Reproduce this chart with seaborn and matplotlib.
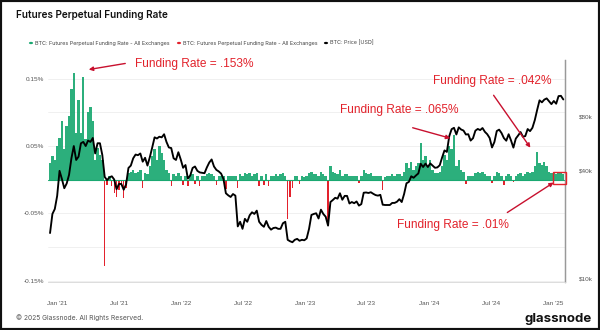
import numpy as np
import pandas as pd
import matplotlib
matplotlib.use("Agg")
import matplotlib.pyplot as plt
import matplotlib.patches as mpatches
import seaborn as sns

# ---------------- data (weekly) ----------------
start_date = "2020-12-11"

price_usd = [
    18000, 23000, 24500,
    29000, 40000, 36000, 32000, 34000,
    38000, 47000, 55000, 46000,
    48000, 57000, 58000, 55000,
    59000, 58000, 61000, 50000, 57000,
    57000, 49000, 37000, 35500,
    36800, 37300, 35800, 31600,
    33800, 33800, 31400, 33600, 41500,
    42800, 47000, 49300, 48900,
    50000, 45000, 47300, 42800,
    47700, 54000, 61500, 60600, 62000,
    61500, 64000, 58000, 54000,
    53600, 47000, 46000, 50800, 46300,
    41600, 43100, 36200, 37700,
    41500, 42300, 40000, 39200,
    39000, 38800, 41800, 44500,
    46300, 42300, 40500, 39700, 38600,
    36000, 30000, 29200, 28600,
    29700, 29100, 19600, 20800,
    19000, 21600, 20800, 22600, 23500,
    23000, 24000, 20800, 20000,
    19500, 21000, 19500, 18800, 19200,
    19300, 19000, 19000, 20400,
    20800, 16500, 16200, 16000,
    16500, 16700, 16300, 16500, 16400,
    16800, 19000, 22700, 23000,
    23200, 21700, 24300, 23000,
    22200, 19800, 26800, 27500, 28300,
    28000, 30000, 27600, 29000,
    29000, 26300, 26800, 26400,
    27000, 25600, 26100, 30200, 30300,
    30100, 30400, 29800, 29300,
    29100, 29400, 25900, 25800,
    25800, 25800, 26500, 26500, 26900,
    27800, 26800, 29700, 34100,
    34700, 37300, 36600, 37700,
    38700, 43800, 42000, 43900, 42000,
    44000, 42800, 41600, 41800,
    43000, 47500, 52000, 51000,
    62400, 68300, 69500, 63800, 69900,
    68000, 67100, 63800, 64000,
    59000, 60800, 67000, 68500, 67500,
    69300, 66000, 64000, 61000,
    54000, 57900, 66700, 67900,
    65000, 60900, 58900, 64000, 59100,
    53900, 60500, 63000, 65800,
    62000, 62500, 68400, 66600,
    69500, 76700, 87500, 98900, 96400,
    99800, 101400, 97800, 94200,
    98100, 94700, 104400, 104800, 100000,
]

funding_pct = [
    0.025, 0.035, 0.03,
    0.05, 0.062, 0.088, 0.045, 0.08,
    0.095, 0.135, 0.158, 0.07,
    0.118, 0.07, 0.152, 0.06,
    0.10, 0.108, 0.088, 0.03, 0.047,
    0.037, 0.03, -0.128, -0.008,
    0.006, -0.01, -0.02, -0.026,
    -0.015, -0.01, -0.027, -0.012, 0.01,
    0.012, 0.015, 0.01, 0.012,
    0.015, -0.013, 0.01, 0.008,
    0.02, 0.035, 0.045, 0.03, 0.05,
    0.04, 0.03, 0.015, 0.01,
    -0.01, 0.008, 0.006, 0.01, 0.006,
    -0.008, 0.006, -0.01, 0.005,
    0.008, -0.006, 0.006, -0.01,
    0.005, 0.006, 0.008, 0.01,
    0.008, 0.006, -0.008, 0.005, 0.006,
    0.005, -0.014, 0.006, 0.005,
    0.006, 0.005, -0.012, 0.008,
    0.006, 0.01, 0.008, 0.01, 0.006,
    0.008, 0.01, -0.01, 0.006,
    -0.008, 0.008, -0.01, 0.006, 0.005,
    0.008, 0.006, 0.008, 0.01,
    0.006, -0.058, -0.025, -0.012,
    0.005, 0.006, -0.006, 0.005, 0.004,
    0.005, 0.01, 0.012, 0.008,
    0.008, 0.006, 0.012, 0.008,
    0.006, -0.066, 0.02, 0.012, 0.01,
    0.008, 0.014, 0.006, 0.008,
    0.008, 0.005, 0.006, 0.005,
    0.006, -0.005, 0.005, 0.014, 0.01,
    0.008, 0.01, 0.006, 0.005,
    0.005, 0.006, -0.015, 0.004,
    0.005, 0.006, 0.008, 0.006, 0.008,
    0.008, 0.006, 0.012, 0.025,
    0.018, 0.027, 0.015, 0.02,
    0.025, 0.055, 0.03, 0.035, 0.02,
    0.03, 0.015, 0.01, 0.01,
    0.012, 0.02, 0.037, 0.03,
    0.05, 0.045, 0.066, 0.02, 0.03,
    0.015, 0.012, -0.007, 0.005,
    0.006, 0.005, 0.01, 0.012, 0.01,
    0.012, 0.008, 0.006, 0.005,
    -0.005, 0.006, 0.012, 0.01,
    0.006, -0.008, 0.005, 0.008, 0.005,
    -0.004, 0.006, 0.008, 0.01,
    0.006, 0.008, 0.012, 0.01,
    0.012, 0.02, 0.041, 0.025, 0.022,
    0.027, 0.02, 0.012, 0.01,
    0.01, 0.008, 0.012, 0.01, 0.008,
]

left_ticks = [0.15, 0.05, -0.05, -0.15]
left_tick_labels = ["0.15%", "0.05%", "-0.05%", "-0.15%"]
right_ticks = [10000, 40000, 80000]
right_tick_labels = ["$10k", "$40k", "$80k"]
x_ticks = ["2021-01-01", "2021-07-01", "2022-01-01", "2022-07-01", "2023-01-01",
           "2023-07-01", "2024-01-01", "2024-07-01", "2025-01-01"]
x_tick_labels = ["Jan '21", "Jul '21", "Jan '22", "Jul '22", "Jan '23",
                 "Jul '23", "Jan '24", "Jul '24", "Jan '25"]

annotations = [
    ("Funding Rate = .153%", (135, 64), (128, 63), (86, 70)),
    ("Funding Rate = .065%", (340, 110), (410, 127), (453, 139)),
    ("Funding Rate = .042%", (433, 81), (492, 93), (532, 150)),
    ("Funding Rate = .01%", (397, 225), (505, 214), (556, 181)),
]

# ---------------- styling ----------------
sns.set_theme(style="white")
plt.rcParams["font.family"] = ["Liberation Sans", "DejaVu Sans"]

W, H = 600, 330
fig = plt.figure(figsize=(6, 3.3), dpi=100)
fig.patch.set_facecolor("white")

def fx(px):
    return px / W

def fy(py):
    return 1 - py / H

ax = fig.add_axes([fx(48), fy(282), fx(565) - fx(48), fy(60) - fy(282)])
ax2 = ax.twinx()

df = pd.DataFrame({
    "date": pd.date_range(start_date, periods=len(price_usd), freq="7D"),
    "price": price_usd,
    "funding": funding_pct,
})

GREEN = "#1aa871"
RED = "#e3222d"
pos = df["funding"].clip(lower=0)
neg = df["funding"].clip(upper=0)
ax.bar(df["date"], pos, width=7.0, color=GREEN, alpha=0.92, linewidth=0)
ax.bar(df["date"], neg, width=4.0, color=RED, linewidth=0)
ax.axhline(0, color=GREEN, lw=0.8)

sns.lineplot(data=df, x="date", y="price", ax=ax2, color="black", lw=1.35)

ax.set_xlim(pd.Timestamp("2020-12-05"), pd.Timestamp("2025-02-05"))
ax.set_ylim(-0.152, 0.178)
ax2.set_yscale("log")
ax2.set_ylim(9600, 166000)

# gridlines
for v in [0.15, 0.10, 0.05, -0.05, -0.10, -0.15]:
    ax.axhline(v, color="#eeeeee", lw=0.6, zorder=0)

ax.set_yticks(left_ticks)
ax.set_yticklabels(left_tick_labels)
ax2.set_yticks(right_ticks)
ax2.set_yticklabels(right_tick_labels)
ax2.minorticks_off()
ax.set_xticks(pd.to_datetime(x_ticks))
ax.set_xticklabels(x_tick_labels)
ax2.set_xlabel("")
ax2.set_ylabel("")
ax.set_xlabel("")
ax.set_ylabel("")

tick_color = "#555555"
ax.tick_params(axis="y", length=0, labelsize=4.6, labelcolor=tick_color, pad=3)
ax.tick_params(axis="x", length=0, labelsize=4.6, labelcolor=tick_color, pad=14)
ax2.tick_params(axis="y", length=0, labelsize=4.6, labelcolor=tick_color, pad=10)

for a in (ax, ax2):
    for s in ["top", "left"]:
        a.spines[s].set_visible(False)
    a.spines["bottom"].set_color("#dddddd")
    a.spines["bottom"].set_linewidth(0.6)
    a.spines["right"].set_color("#999999")
    a.spines["right"].set_linewidth(0.9)
ax.grid(False)
ax2.grid(False)

# title
fig.text(fx(16), fy(15), "Futures Perpetual Funding Rate", fontsize=7.2,
         fontweight="semibold", family=["Inter", "DejaVu Sans"], color="#111111",
         va="center", ha="left")

# legend
legend_items = [
    (GREEN, "BTC: Futures Perpetual Funding Rate - All Exchanges", 31),
    (RED, "BTC: Futures Perpetual Funding Rate - All Exchanges", 179),
    ("black", "BTC: Price [USD]", 326),
]
for col, lab, x0 in legend_items:
    fig.patches.append(mpatches.Circle((fx(x0), fy(43)), 0.0035, transform=fig.transFigure,
                                       facecolor=col, edgecolor="none"))
    fig.text(fx(x0 + 4), fy(43), lab, fontsize=3.9, color="#444444",
             va="center", ha="left", family=["Inter", "DejaVu Sans"])

# annotations
for txt, tpos, tail, tip in annotations:
    fig.text(fx(tpos[0]), fy(tpos[1]), txt, fontsize=8.6, color="#e2222b",
             va="center", ha="left")
    fig.add_artist(mpatches.FancyArrowPatch(
        (fx(tail[0]), fy(tail[1])), (fx(tip[0]), fy(tip[1])),
        transform=fig.transFigure, arrowstyle="-|>", mutation_scale=6,
        color="#c8102e", lw=1.0))

fig.patches.append(mpatches.Rectangle((fx(553), fy(184)), fx(13), fy(172) - fy(184),
                                      transform=fig.transFigure, fill=False,
                                      edgecolor="#e2222b", lw=1.0))

# footer
fig.text(fx(16), fy(318), "\u00a9 2025 Glassnode. All Rights Reserved.", fontsize=4.8,
         color="#555555", va="center", ha="left", family=["Inter", "DejaVu Sans"])
fig.text(fx(592), fy(319), "glassnode", fontsize=9.5, fontweight="bold",
         color="#111111", va="center", ha="right", family=["Inter", "DejaVu Sans"])

# dark screenshot border
fig.patches.append(mpatches.Rectangle((0, 0), 1, 1, transform=fig.transFigure,
                                      fill=False, edgecolor="#111111", lw=3))

fig.savefig("out.png", dpi=100)
